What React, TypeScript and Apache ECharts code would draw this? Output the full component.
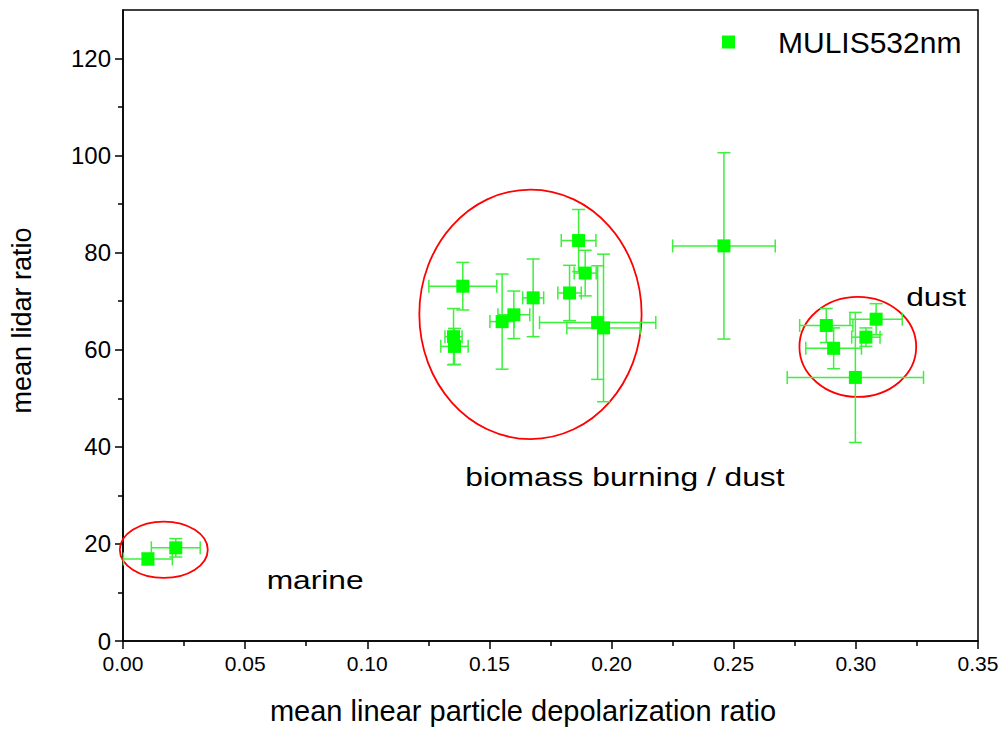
import React, { useEffect, useRef } from "react";
import * as echarts from "echarts";

const seriesName = "MULIS532nm";

// mean linear particle depolarization ratio
const depol = [0.0102, 0.0216, 0.1391, 0.1353, 0.1357, 0.1552, 0.16, 0.1679, 0.1865, 0.1892, 0.1828, 0.1943, 0.1967, 0.246, 0.2879, 0.2909, 0.3083, 0.3041, 0.2998];
// mean lidar ratio
const lidar = [16.9, 19.2, 73.1, 62.7, 60.7, 65.8, 67.2, 70.7, 82.5, 75.8, 71.7, 65.6, 64.5, 81.4, 65.0, 60.3, 66.3, 62.6, 54.3];
const depolErr = [0.01, 0.01, 0.0139, 0.0035, 0.0056, 0.005, 0.0065, 0.0043, 0.0071, 0.0045, 0.0048, 0.0238, 0.015, 0.021, 0.0109, 0.0114, 0.0107, 0.0058, 0.0279];
const lidarErr = [1.2, 1.9, 4.9, 5.8, 3.7, 9.8, 4.9, 8.0, 6.4, 4.7, 5.7, 11.7, 15.2, 19.2, 3.5, 4.2, 3.2, 1.9, 13.4];

const xTicks = [0, 0.05, 0.1, 0.15, 0.2, 0.25, 0.3, 0.35];
const xMinorTicks = [0.025, 0.075, 0.125, 0.175, 0.225, 0.275, 0.325];
const yTicks = [0, 20, 40, 60, 80, 100, 120];
const yMinorTicks = [10, 30, 50, 70, 90, 110];

const ellipseCenterX = [0.0167, 0.1668, 0.3008];
const ellipseCenterY = [18.8, 67.3, 60.6];
const ellipseRadiusX = [0.018, 0.0455, 0.0239];
const ellipseRadiusY = [5.8, 25.7, 10.3];

const annotationTexts = ["marine", "biomass burning / dust", "dust"];
const annotationX = [0.0588, 0.1401, 0.3206];
const annotationY = [12.6, 33.8, 70.9];

const FONT = "'Liberation Sans', Arial, sans-serif";

export default function App() {
  const ref = useRef<HTMLDivElement>(null);

  useEffect(() => {
    if (!ref.current) return;
    const chart = echarts.init(ref.current, null, { renderer: "svg" });

    const points = depol.map((x, i) => [x, lidar[i]]);
    const errData = depol.map((x, i) => [x, lidar[i], depolErr[i], lidarErr[i]]);
    const ellData = ellipseCenterX.map((x, i) => [x, ellipseCenterY[i], ellipseRadiusX[i], ellipseRadiusY[i]]);

    const axisCommon = {
      type: "value" as const,
      splitLine: { show: false },
    };

    const option: any = {
      animation: false,
      backgroundColor: "#ffffff",
      grid: {
        left: 121,
        right: 27,
        top: 10,
        bottom: 99,
        show: true,
        borderColor: "#000",
        borderWidth: 1.5,
        backgroundColor: "transparent",
      },
      legend: {
        data: [seriesName],
        left: 717,
        top: 22,
        icon: "rect",
        itemWidth: 13,
        itemHeight: 13,
        textStyle: {
          fontFamily: FONT,
          fontSize: 30,
          color: "#000",
          padding: [0, 0, 0, 38],
        },
      },
      xAxis: [
        {
          ...axisCommon,
          min: 0,
          max: 0.35,
          interval: 0.05,
          position: "bottom",
          axisLine: { show: true, lineStyle: { color: "#000", width: 1.5 } },
          axisTick: { show: true, length: 8, lineStyle: { color: "#000", width: 1.5 }, customValues: xTicks },
          axisLabel: {
            customValues: xTicks,
            formatter: (v: number) => v.toFixed(2),
            fontFamily: FONT,
            fontSize: 21,
            color: "#000",
            margin: 12,
          },
          name: "mean linear particle depolarization ratio",
          nameLocation: "middle",
          nameGap: 55,
          nameTextStyle: { fontFamily: FONT, fontSize: 29, color: "#000", padding: [0, 55, 0, 0] },
        },
        {
          ...axisCommon,
          min: 0,
          max: 0.35,
          position: "bottom",
          axisLine: { show: false },
          axisTick: { show: true, length: 5, lineStyle: { color: "#000", width: 1.5 }, customValues: xMinorTicks },
          axisLabel: { show: false },
        },
      ],
      yAxis: [
        {
          ...axisCommon,
          min: 0,
          max: 130,
          interval: 20,
          position: "left",
          axisLine: { show: true, lineStyle: { color: "#000", width: 1.5 } },
          axisTick: { show: true, length: 8, lineStyle: { color: "#000", width: 1.5 }, customValues: yTicks },
          axisLabel: {
            customValues: yTicks,
            fontFamily: FONT,
            fontSize: 24,
            color: "#000",
            margin: 12,
          },
          name: "mean lidar ratio",
          nameLocation: "middle",
          nameGap: 88,
          nameTextStyle: { fontFamily: FONT, fontSize: 27, color: "#000", padding: [0, 0, 0, 10] },
        },
        {
          ...axisCommon,
          min: 0,
          max: 130,
          position: "left",
          axisLine: { show: false },
          axisTick: { show: true, length: 5, lineStyle: { color: "#000", width: 1.5 }, customValues: yMinorTicks },
          axisLabel: { show: false },
        },
      ],
      series: [
        {
          type: "custom",
          name: "ellipses",
          xAxisIndex: 0,
          yAxisIndex: 0,
          silent: true,
          clip: false,
          data: ellData,
          encode: { x: 0, y: 1 },
          renderItem: (params: any, api: any) => {
            const c = api.coord([api.value(0), api.value(1)]);
            const s = api.size([api.value(2), api.value(3)]);
            return {
              type: "ellipse",
              shape: { cx: c[0], cy: c[1], rx: s[0], ry: s[1] },
              style: { fill: "none", stroke: "#ff0000", lineWidth: 1.8 },
            };
          },
          z: 1,
        },
        {
          type: "custom",
          name: "errors",
          xAxisIndex: 0,
          yAxisIndex: 0,
          silent: true,
          clip: false,
          data: errData,
          encode: { x: 0, y: 1 },
          renderItem: (params: any, api: any) => {
            const x = api.value(0);
            const y = api.value(1);
            const xe = api.value(2);
            const ye = api.value(3);
            const l = api.coord([x - xe, y]);
            const r = api.coord([x + xe, y]);
            const t = api.coord([x, y + ye]);
            const b = api.coord([x, y - ye]);
            const cap = 6.5;
            const style = { stroke: "#3cf03c", lineWidth: 1.5 };
            const ln = (x1: number, y1: number, x2: number, y2: number) => ({
              type: "line",
              shape: { x1, y1, x2, y2 },
              style,
            });
            return {
              type: "group",
              children: [
                ln(l[0], l[1], r[0], r[1]),
                ln(t[0], t[1], b[0], b[1]),
                ln(l[0], l[1] - cap, l[0], l[1] + cap),
                ln(r[0], r[1] - cap, r[0], r[1] + cap),
                ln(t[0] - cap, t[1], t[0] + cap, t[1]),
                ln(b[0] - cap, b[1], b[0] + cap, b[1]),
              ],
            };
          },
          z: 2,
        },
        {
          type: "scatter",
          name: seriesName,
          xAxisIndex: 0,
          yAxisIndex: 0,
          symbol: "rect",
          symbolSize: 13,
          itemStyle: { color: "#00ff00", opacity: 1 },
          data: points,
          z: 3,
        },
      ],
    };

    chart.setOption(option);

    const graphics = annotationTexts.map((t, i) => {
      const p = chart.convertToPixel({ gridIndex: 0 }, [annotationX[i], annotationY[i]]) as number[];
      return {
        type: "text",
        x: p[0],
        y: p[1],
        scaleX: 1.27,
        style: {
          text: t,
          fontFamily: FONT,
          fontSize: 25,
          fill: "#000",
          textAlign: "left",
          textVerticalAlign: "middle",
        },
        z: 10,
      };
    });
    chart.setOption({ graphic: graphics });

    return () => chart.dispose();
  }, []);

  return (
    <div
      ref={ref}
      style={{ position: "absolute", left: 0, top: 0, width: 1005, height: 740 }}
    />
  );
}
